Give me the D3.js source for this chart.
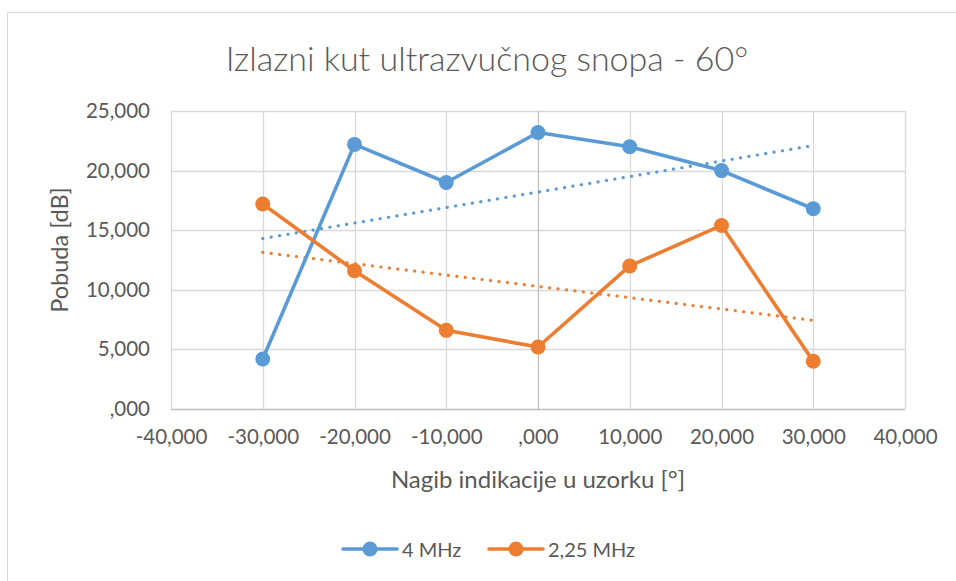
<!DOCTYPE html>
<html>
<head>
<meta charset="utf-8">
<script src="https://cdn.jsdelivr.net/npm/d3@7"></script>
<style>
  html, body { margin: 0; padding: 0; background: #fff; }
  svg { display: block; font-family: Lato, "Open Sans", sans-serif; }
</style>
</head>
<body>
<div id="chart"></div>
<script>
// Excitation vs. indication angle, two probe frequencies
const angles = [-30, -20, -10, 0, 10, 20, 30];
const series4MHz = [4200, 22200, 19000, 23200, 22000, 20000, 16800];
const series225MHz = [17200, 11600, 6600, 5200, 12000, 15400, 4000];
const seriesNames = ["4 MHz", "2,25 MHz"];
const seriesColors = ["#5b9bd5", "#ed7d31"];
const xTicks = [-40, -30, -20, -10, 0, 10, 20, 30, 40];
const yTicks = [0, 5000, 10000, 15000, 20000, 25000];
const titleText = "Izlazni kut ultrazvučnog snopa - 60°";
const xTitle = "Nagib indikacije u uzorku [°]";
const yTitle = "Pobuda [dB]";

const W = 956, H = 581;
const plot = { left: 171, right: 905, top: 111, bottom: 409 };

const svg = d3.select("#chart").append("svg")
  .attr("width", W).attr("height", H);

// chart frame
svg.append("rect")
  .attr("x", 7.5).attr("y", 12.5)
  .attr("width", W + 20).attr("height", H + 20)
  .attr("fill", "#fff").attr("stroke", "#d9d9d9").attr("stroke-width", 1);

const x = d3.scaleLinear().domain([-40, 40]).range([plot.left, plot.right]);
const y = d3.scaleLinear().domain([0, 25000]).range([plot.bottom, plot.top]);

// number format: "25,000", ",000", "-30,000"
const fmt = v => {
  const a = Math.abs(v);
  const thousands = Math.floor(a / 1000);
  const s = (thousands === 0 ? "" : String(thousands)) + ",000";
  return (v < 0 ? "-" : "") + s;
};
const fmtX = v => {
  const s = v === 0 ? "" : String(Math.abs(v));
  return (v < 0 ? "-" : "") + s + ",000";
};

// gridlines
const grid = svg.append("g");
yTicks.forEach(t => {
  grid.append("line")
    .attr("x1", plot.left).attr("x2", plot.right)
    .attr("y1", Math.round(y(t)) + 0.5).attr("y2", Math.round(y(t)) + 0.5)
    .attr("stroke", t === 0 ? "#bfbfbf" : "#d9d9d9").attr("stroke-width", 1.3);
});
xTicks.forEach(t => {
  grid.append("line")
    .attr("x1", Math.round(x(t)) + 0.5).attr("x2", Math.round(x(t)) + 0.5)
    .attr("y1", plot.top).attr("y2", plot.bottom)
    .attr("stroke", t === 0 ? "#bfbfbf" : "#d9d9d9").attr("stroke-width", 1.3);
});

// axis labels via d3 axes (lines hidden)
const yAxis = svg.append("g")
  .attr("transform", `translate(${plot.left},0)`)
  .call(d3.axisLeft(y).tickValues(yTicks).tickFormat(fmt).tickSize(0).tickPadding(21));
const xAxis = svg.append("g")
  .attr("transform", `translate(0,${plot.bottom})`)
  .call(d3.axisBottom(x).tickValues(xTicks).tickFormat(fmtX).tickSize(0).tickPadding(20));
[yAxis, xAxis].forEach(g => {
  g.select(".domain").remove();
  g.selectAll("text")
    .attr("fill", "#595959")
    .style("font-size", "20.5px")
    .style("font-family", "Lato, 'Open Sans', sans-serif");
});

// linear trendlines (least squares)
function trend(xs, ys) {
  const n = xs.length;
  const mx = d3.mean(xs), my = d3.mean(ys);
  let sxy = 0, sxx = 0;
  for (let i = 0; i < n; i++) { sxy += (xs[i] - mx) * (ys[i] - my); sxx += (xs[i] - mx) ** 2; }
  const b = sxy / sxx, a = my - b * mx;
  const x0 = d3.min(xs), x1 = d3.max(xs);
  return [[x0, a + b * x0], [x1, a + b * x1]];
}

const allSeries = [series4MHz, series225MHz];
const line = d3.line().x(d => x(d[0])).y(d => y(d[1]));

allSeries.forEach((vals, i) => {
  svg.append("path")
    .datum(trend(angles, vals))
    .attr("d", line)
    .attr("fill", "none")
    .attr("stroke", seriesColors[i])
    .attr("stroke-width", 3.2)
    .attr("stroke-linecap", "round")
    .attr("stroke-dasharray", "0.1 8.4");
});

allSeries.forEach((vals, i) => {
  const pts = angles.map((a, k) => [a, vals[k]]);
  const g = svg.append("g");
  g.append("path")
    .datum(pts)
    .attr("d", line)
    .attr("fill", "none")
    .attr("stroke", seriesColors[i])
    .attr("stroke-width", 3.6)
    .attr("stroke-linejoin", "round");
  g.selectAll("circle").data(pts).join("circle")
    .attr("cx", d => x(d[0])).attr("cy", d => y(d[1]))
    .attr("r", 7.5)
    .attr("fill", seriesColors[i]);
});

// title
svg.append("text")
  .attr("x", 487).attr("y", 71)
  .attr("text-anchor", "middle")
  .attr("fill", "#595959")
  .style("font-size", "34px")
  .style("font-weight", 300)
  .text(titleText);

// axis titles
svg.append("text")
  .attr("x", x(0)).attr("y", 488)
  .attr("text-anchor", "middle")
  .attr("fill", "#595959")
  .style("font-size", "24px")
  .text(xTitle);

svg.append("text")
  .attr("transform", `translate(68,250) rotate(-90)`)
  .attr("text-anchor", "middle")
  .attr("fill", "#595959")
  .style("font-size", "23.5px")
  .text(yTitle);

// legend
const legendItems = [{ x: 343 }, { x: 489 }];
legendItems.forEach((it, i) => {
  const g = svg.append("g").attr("transform", `translate(${it.x},549)`);
  g.append("line").attr("x1", 0).attr("x2", 54).attr("y1", 0).attr("y2", 0)
    .attr("stroke", seriesColors[i]).attr("stroke-width", 3.6).attr("stroke-linecap", "round");
  g.append("circle").attr("cx", 27).attr("cy", 0).attr("r", 7.5).attr("fill", seriesColors[i]);
  g.append("text").attr("x", 59).attr("y", 7.5)
    .attr("fill", "#595959").style("font-size", "20px")
    .text(seriesNames[i]);
});
</script>
</body>
</html>
